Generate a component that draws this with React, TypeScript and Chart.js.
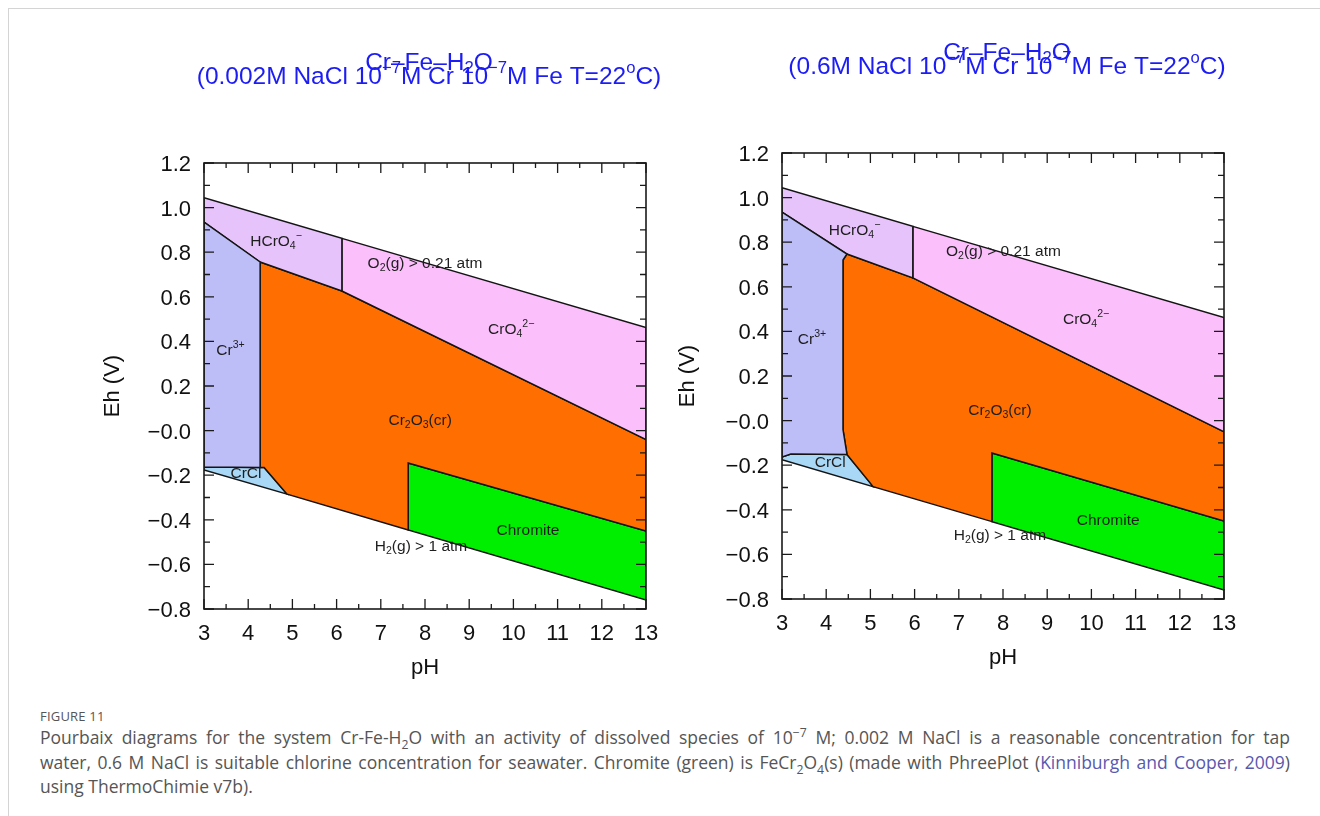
import React, { useEffect, useRef } from 'react';
import { Chart, registerables } from 'chart.js';

Chart.register(...registerables);

const FONT = "'Liberation Sans', Arial, Helvetica, sans-serif";

// ---- axis ticks ----
const PH_MAJOR = [3, 4, 5, 6, 7, 8, 9, 10, 11, 12, 13];
const PH_MINOR = [3.5, 4.5, 5.5, 6.5, 7.5, 8.5, 9.5, 10.5, 11.5, 12.5];
const EH_MAJOR = [-0.8, -0.6, -0.4, -0.2, 0, 0.2, 0.4, 0.6, 0.8, 1.0, 1.2];
const EH_LABELS = ['−0.8', '−0.6', '−0.4', '−0.2', '−0.0', '0.2', '0.4', '0.6', '0.8', '1.0', '1.2'];
const EH_MINOR = [-0.7, -0.5, -0.3, -0.1, 0.1, 0.3, 0.5, 0.7, 0.9, 1.1];

// ---- species ----
const SPECIES = ['Cr3+', 'HCrO4-', 'CrO4 2-', 'Cr2O3(cr)', 'Chromite', 'CrCl'];
const SPECIES_COLORS = ['#bdbdf7', '#e6c3fa', '#fbbffb', '#ff6e00', '#00ee00', '#a9d7f6'];

// ---- left diagram: 0.002 M NaCl ----
const L_CR3_PH = [3, 4.27, 4.27, 3];
const L_CR3_EH = [0.935, 0.756, -0.165, -0.163];
const L_HCRO4_PH = [3, 6.12, 6.12, 4.27, 3];
const L_HCRO4_EH = [1.044, 0.862, 0.626, 0.756, 0.935];
const L_CRO4_PH = [6.12, 13, 13, 6.12];
const L_CRO4_EH = [0.862, 0.462, -0.04, 0.626];
const L_CR2O3_PH = [4.27, 6.12, 13, 13, 7.62, 7.62, 4.88, 4.36, 4.27];
const L_CR2O3_EH = [0.756, 0.626, -0.04, -0.45, -0.145, -0.446, -0.285, -0.165, -0.165];
const L_CHROMITE_PH = [7.62, 13, 13, 7.62];
const L_CHROMITE_EH = [-0.145, -0.45, -0.76, -0.446];
const L_CRCL_PH = [3, 4.36, 4.88, 3];
const L_CRCL_EH = [-0.163, -0.165, -0.285, -0.176];

// ---- right diagram: 0.6 M NaCl ----
const R_CR3_PH = [3, 4.47, 4.38, 4.38, 4.47, 3.2, 3];
const R_CR3_EH = [0.935, 0.747, 0.72, -0.04, -0.152, -0.15, -0.163];
const R_HCRO4_PH = [3, 5.96, 5.96, 4.47, 3];
const R_HCRO4_EH = [1.044, 0.871, 0.64, 0.747, 0.935];
const R_CRO4_PH = [5.96, 13, 13, 5.96];
const R_CRO4_EH = [0.871, 0.462, -0.05, 0.64];
const R_CR2O3_PH = [4.47, 5.96, 13, 13, 7.75, 7.75, 5.06, 4.98, 4.47, 4.38, 4.38];
const R_CR2O3_EH = [0.747, 0.64, -0.05, -0.45, -0.145, -0.453, -0.296, -0.276, -0.152, -0.04, 0.72];
const R_CHROMITE_PH = [7.75, 13, 13, 7.75];
const R_CHROMITE_EH = [-0.145, -0.45, -0.76, -0.453];
const R_CRCL_PH = [3, 3.2, 4.47, 4.98, 5.06, 3];
const R_CRCL_EH = [-0.163, -0.15, -0.152, -0.276, -0.296, -0.1755];

// ---- region labels ----
const LABEL_TEXT = ['HCrO_{4}^{−}', 'O_{2}(g) > 0.21 atm', 'CrO_{4}^{2−}', 'Cr^{3+}', 'Cr_{2}O_{3}(cr)', 'CrCl', 'H_{2}(g) > 1 atm', 'Chromite'];
const L_LABEL_PH = [4.63, 8.0, 9.95, 3.6, 7.89, 3.95, 7.91, 10.33];
const L_LABEL_EH = [0.846, 0.747, 0.451, 0.357, 0.043, -0.195, -0.522, -0.45];
const R_LABEL_PH = [4.64, 8.01, 9.88, 3.68, 7.93, 4.09, 7.93, 10.38];
const R_LABEL_EH = [0.85, 0.756, 0.451, 0.361, 0.043, -0.19, -0.518, -0.45];

const L_TITLE = ['Cr–Fe–H_{2}O', '(0.002M NaCl 10^{−7}M Cr 10^{−7}M Fe T=22^{o}C)'];
const R_TITLE = ['Cr–Fe–H_{2}O', '(0.6M NaCl 10^{−7}M Cr 10^{−7}M Fe T=22^{o}C)'];

type Seg = { t: string; m: number };
function parseRich(s: string): Seg[] {
  const out: Seg[] = [];
  let buf = '';
  let i = 0;
  while (i < s.length) {
    const c = s[i];
    if ((c === '_' || c === '^') && s[i + 1] === '{') {
      if (buf) { out.push({ t: buf, m: 0 }); buf = ''; }
      const end = s.indexOf('}', i + 2);
      out.push({ t: s.slice(i + 2, end), m: c === '^' ? 1 : -1 });
      i = end + 1;
    } else { buf += c; i++; }
  }
  if (buf) out.push({ t: buf, m: 0 });
  return out;
}

function drawRich(ctx: CanvasRenderingContext2D, s: string, cx: number, cy: number, size: number, color: string) {
  const segs = parseRich(s);
  const small = size * 0.68;
  let w = 0;
  const widths = segs.map((g) => {
    ctx.font = `${g.m ? small : size}px ${FONT}`;
    const ww = ctx.measureText(g.t).width;
    w += ww;
    return ww;
  });
  ctx.save();
  ctx.fillStyle = color;
  ctx.textBaseline = 'middle';
  ctx.textAlign = 'left';
  let x = cx - w / 2;
  segs.forEach((g, k) => {
    ctx.font = `${g.m ? small : size}px ${FONT}`;
    const dy = g.m === 1 ? -size * 0.36 : g.m === -1 ? size * 0.24 : 0;
    ctx.fillText(g.t, x, cy + dy);
    x += widths[k];
  });
  ctx.restore();
}

const decorPlugin = {
  id: 'decor',
  afterDatasetsDraw(chart: any, _args: any, opts: any) {
    const { ctx, chartArea: a, scales } = chart;
    const xs = scales.x;
    const ys = scales.y;
    ctx.save();
    ctx.strokeStyle = '#1a1a1a';
    ctx.lineWidth = 1.3;
    ctx.beginPath();
    const vt = (v: number, len: number) => {
      const px = xs.getPixelForValue(v);
      ctx.moveTo(px, a.bottom); ctx.lineTo(px, a.bottom - len);
      ctx.moveTo(px, a.top); ctx.lineTo(px, a.top + len);
    };
    const ht = (v: number, len: number) => {
      const py = ys.getPixelForValue(v);
      ctx.moveTo(a.left, py); ctx.lineTo(a.left + len, py);
      ctx.moveTo(a.right, py); ctx.lineTo(a.right - len, py);
    };
    PH_MAJOR.forEach((v) => vt(v, 10));
    PH_MINOR.forEach((v) => vt(v, 5));
    EH_MAJOR.forEach((v) => ht(v, 10));
    EH_MINOR.forEach((v) => ht(v, 6));
    ctx.stroke();
    ctx.lineWidth = 1.6;
    ctx.strokeRect(a.left, a.top, a.right - a.left, a.bottom - a.top);
    ctx.restore();
    // region labels
    LABEL_TEXT.forEach((t, i) => {
      drawRich(ctx, t, xs.getPixelForValue(opts.labelPh[i]), ys.getPixelForValue(opts.labelEh[i]), 15.5, '#1e1e1e');
    });
  },
  afterDraw(chart: any, _args: any, opts: any) {
    const { ctx, chartArea: a } = chart;
    const cx = (a.left + a.right) / 2 + 4;
    drawRich(ctx, opts.title[0], cx, a.top - 100, 24.5, '#1c1cf5');
    drawRich(ctx, opts.title[1], cx, a.top - 86, 24.5, '#1c1cf5');
  },
};

type Cfg = {
  regions: number[][][];
  labelPh: number[];
  labelEh: number[];
  title: string[];
  yWidth: number;
  yTitlePad: number;
  padding: { left: number; top: number; right: number; bottom: number };
  left: number;
};

function buildConfig(c: Cfg): any {
  const datasets = c.regions.map(([ph, eh], i) => {
    const pts = ph.map((x, j) => ({ x, y: eh[j] }));
    pts.push({ x: ph[0], y: eh[0] });
    return {
      label: SPECIES[i],
      data: pts,
      showLine: true,
      fill: 'shape',
      backgroundColor: SPECIES_COLORS[i],
      borderColor: '#141414',
      borderWidth: 1.5,
      pointRadius: 0,
      tension: 0,
    };
  });
  const tickFont = { family: FONT, size: 22 };
  return {
    type: 'scatter',
    data: { datasets },
    plugins: [decorPlugin],
    options: {
      animation: false,
      responsive: false,
      layout: { autoPadding: false, padding: c.padding },
      plugins: {
        legend: { display: false },
        tooltip: { enabled: false },
        decor: { labelPh: c.labelPh, labelEh: c.labelEh, title: c.title },
      },
      scales: {
        x: {
          type: 'linear',
          min: 3,
          max: 13,
          afterBuildTicks: (s: any) => { s.ticks = PH_MAJOR.map((v) => ({ value: v })); },
          afterFit: (s: any) => { s.height = 80; },
          grid: { display: false, drawTicks: false },
          border: { display: false },
          ticks: { font: { family: FONT, size: 22, lineHeight: 2.3 }, color: '#111', padding: 0, maxRotation: 0, autoSkip: false, callback: (v: any) => String(v) },
          title: { display: true, text: 'pH', font: tickFont, color: '#111', padding: { top: 0, bottom: 8 } },
        },
        y: {
          type: 'linear',
          min: -0.8,
          max: 1.2,
          afterBuildTicks: (s: any) => { s.ticks = EH_MAJOR.map((v) => ({ value: v })); },
          afterFit: (s: any) => { s.width = c.yWidth; },
          grid: { display: false, drawTicks: false },
          border: { display: false },
          ticks: { font: tickFont, color: '#111', padding: 13, labelOffset: 2, autoSkip: false, callback: (_v: any, i: number) => EH_LABELS[i] },
          title: { display: true, text: 'Eh (V)', font: tickFont, color: '#111', padding: { top: c.yTitlePad, bottom: 0 } },
        },
      },
    },
  };
}

const LEFT_CFG: Cfg = {
  regions: [
    [L_CR3_PH, L_CR3_EH], [L_HCRO4_PH, L_HCRO4_EH], [L_CRO4_PH, L_CRO4_EH],
    [L_CR2O3_PH, L_CR2O3_EH], [L_CHROMITE_PH, L_CHROMITE_EH], [L_CRCL_PH, L_CRCL_EH],
  ],
  labelPh: L_LABEL_PH,
  labelEh: L_LABEL_EH,
  title: L_TITLE,
  yWidth: 204,
  yTitlePad: 100,
  padding: { left: 0, top: 163, right: 14, bottom: 11 },
  left: 0,
};

const RIGHT_CFG: Cfg = {
  regions: [
    [R_CR3_PH, R_CR3_EH], [R_HCRO4_PH, R_HCRO4_EH], [R_CRO4_PH, R_CRO4_EH],
    [R_CR2O3_PH, R_CR2O3_EH], [R_CHROMITE_PH, R_CHROMITE_EH], [R_CRCL_PH, R_CRCL_EH],
  ],
  labelPh: R_LABEL_PH,
  labelEh: R_LABEL_EH,
  title: R_TITLE,
  yWidth: 122,
  yTitlePad: 15,
  padding: { left: 0, top: 153, right: 96, bottom: 21 },
  left: 660,
};

function Pourbaix({ cfg }: { cfg: Cfg }) {
  const ref = useRef<HTMLCanvasElement>(null);
  useEffect(() => {
    const chart = new Chart(ref.current as HTMLCanvasElement, buildConfig(cfg));
    return () => chart.destroy();
  }, [cfg]);
  return (
    <canvas
      ref={ref}
      width={660}
      height={700}
      style={{ position: 'absolute', left: cfg.left, top: 0, width: 660, height: 700 }}
    />
  );
}

const supStyle: React.CSSProperties = { fontSize: '0.7em', verticalAlign: 'super', lineHeight: 0 };
const subStyle: React.CSSProperties = { fontSize: '0.7em', verticalAlign: 'sub', lineHeight: 0 };
const justLine: React.CSSProperties = { width: 1250, textAlign: 'justify', textAlignLast: 'justify' as any };

export default function App() {
  return (
    <div style={{ position: 'absolute', left: 0, top: 0, width: 1320, height: 816, background: '#fff', overflow: 'hidden' }}>
      <div style={{ position: 'absolute', left: 8, top: 8, width: 1312, height: 808, borderTop: '1px solid #d4d4d4', borderLeft: '1px solid #d4d4d4', boxSizing: 'border-box' }} />
      <Pourbaix cfg={LEFT_CFG} />
      <Pourbaix cfg={RIGHT_CFG} />
      <div style={{ position: 'absolute', left: 40, top: 708, fontFamily: "'Open Sans', 'Noto Sans', sans-serif", color: '#555' }}>
        <div style={{ fontSize: 13, lineHeight: '16px', letterSpacing: 0.2 }}>FIGURE 11</div>
        <div style={{ fontSize: 17.5, lineHeight: '24.5px', whiteSpace: 'nowrap', marginTop: 1 }}>
          <div style={justLine}>Pourbaix diagrams for the system Cr-Fe-H<span style={subStyle}>2</span>O with an activity of dissolved species of 10<span style={supStyle}>−7</span> M; 0.002 M NaCl is a reasonable concentration for tap</div>
          <div style={justLine}>water, 0.6 M NaCl is suitable chlorine concentration for seawater. Chromite (green) is FeCr<span style={subStyle}>2</span>O<span style={subStyle}>4</span>(s) (made with PhreePlot (<span style={{ color: '#5858b0' }}>Kinniburgh and Cooper, 2009</span>)</div>
          <div>using ThermoChimie v7b).</div>
        </div>
      </div>
    </div>
  );
}
